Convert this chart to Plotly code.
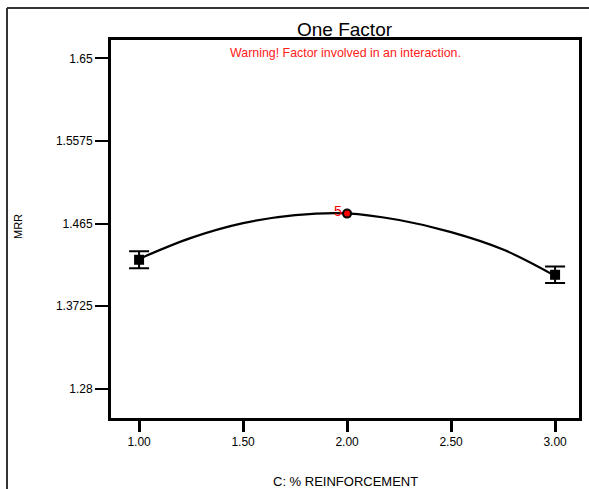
import plotly.graph_objects as go

# design points
x_design = [1.0, 2.0, 3.0]
y_design = [1.4245, 1.4762, 1.4077]
err_design = [0.0095, 0.0, 0.0092]
point_counts = ["", "5", ""]

# predicted curve
x_curve = [1.0, 1.25, 1.5, 1.75, 2.0, 2.25, 2.5, 2.75, 3.0]
y_curve = [1.4255, 1.4490, 1.4655, 1.4745, 1.4765, 1.4690, 1.4555, 1.4360, 1.4065]

y_ticks = [1.28, 1.3725, 1.465, 1.5575, 1.65]
y_ticktext = ["1.28", "1.3725", "1.465", "1.5575", "1.65"]
x_ticks = [1.0, 1.5, 2.0, 2.5, 3.0]
x_ticktext = ["1.00", "1.50", "2.00", "2.50", "3.00"]

W, H = 589, 489
L, R, T, B = 111, 10, 40, 71
pw, ph = W - L - R, H - T - B

def px_x(p):
    return (p - L) / pw

def px_y(p):
    return (H - B - p) / ph

NARROW = "Liberation Sans Narrow, Arial Narrow, Liberation Sans, Arial"
ARIAL = "Liberation Sans, Arial"

fig = go.Figure()
fig.add_trace(go.Scatter(
    x=x_curve, y=y_curve, mode="lines",
    line=dict(color="black", width=2.2, shape="spline", smoothing=1.0),
    hoverinfo="skip", showlegend=False,
))
# square points with error bars (ends)
fig.add_trace(go.Scatter(
    x=[x_design[0], x_design[2]], y=[y_design[0], y_design[2]],
    mode="markers",
    marker=dict(symbol="square", size=10, color="black"),
    error_y=dict(type="data", array=[err_design[0], err_design[2]],
                 color="black", thickness=2, width=10),
    showlegend=False,
))
# centre point
fig.add_trace(go.Scatter(
    x=[x_design[1]], y=[y_design[1]], mode="markers",
    marker=dict(symbol="circle", size=8, color="red",
                line=dict(color="black", width=2)),
    showlegend=False,
))

annotations = [
    dict(text="One Factor", x=px_x(345), y=px_y(30), xref="paper", yref="paper",
         showarrow=False, font=dict(family=ARIAL, size=19, color="black"),
         xanchor="center", yanchor="middle"),
    dict(text="Warning! Factor involved in an interaction.", x=px_x(345), y=px_y(53),
         xref="paper", yref="paper", showarrow=False,
         font=dict(family=NARROW, size=12.4, color="#ff2020"),
         xanchor="center", yanchor="middle"),
    dict(text="C: % REINFORCEMENT", x=px_x(345), y=px_y(481), xref="paper", yref="paper",
         showarrow=False, font=dict(family=NARROW, size=13, color="black"),
         xanchor="center", yanchor="middle"),
    dict(text="MRR", x=px_x(18), y=px_y(227), xref="paper", yref="paper",
         showarrow=False, textangle=-90, font=dict(family=ARIAL, size=11, color="black"),
         xanchor="center", yanchor="middle"),
    dict(text=point_counts[1], x=x_design[1], y=y_design[1], showarrow=False,
         xanchor="right", yanchor="middle", xshift=-3, yshift=3,
         font=dict(family=ARIAL, size=14, color="red")),
]

frame = dict(color="#333333", width=2)
fig.update_layout(
    width=W, height=H,
    margin=dict(l=L, r=R, t=T, b=B, autoexpand=False),
    paper_bgcolor="white", plot_bgcolor="white",
    annotations=annotations,
    shapes=[
        dict(type="line", xref="paper", yref="paper",
             x0=px_x(7), x1=px_x(W + 5), y0=px_y(8), y1=px_y(8), line=frame, layer="below"),
        dict(type="line", xref="paper", yref="paper",
             x0=px_x(7), x1=px_x(7), y0=px_y(8), y1=px_y(H + 5), line=frame, layer="below"),
    ],
    xaxis=dict(range=[0.865, 3.115], tickvals=x_ticks, ticktext=x_ticktext,
               ticks="outside", ticklen=11, tickwidth=3, tickcolor="black",
               showline=True, linecolor="black", linewidth=3, mirror=True,
               showgrid=False, zeroline=False,
               tickfont=dict(family=NARROW, size=12, color="black")),
    yaxis=dict(range=[1.2474, 1.6705], tickvals=y_ticks, ticktext=y_ticktext,
               ticks="outside", ticklen=13, tickwidth=2, tickcolor="black",
               showline=True, linecolor="black", linewidth=3, mirror=True,
               showgrid=False, zeroline=False,
               tickfont=dict(family=NARROW, size=12, color="black")),
)

fig.write_html("out.html", config={"displayModeBar": False},
               post_script="document.body.style.margin='0';document.body.style.overflow='hidden';")
